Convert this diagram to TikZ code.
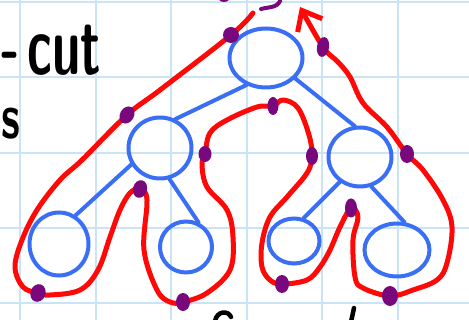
\documentclass[tikz,border=0pt]{standalone}
\usepackage{tikz}
\usetikzlibrary{shapes.geometric, arrows.meta, backgrounds}
\definecolor{gridblue}{RGB}{200,228,246}
\definecolor{treeblue}{RGB}{58,110,245}
\definecolor{tourred}{RGB}{255,8,8}
\definecolor{dotpurple}{RGB}{122,8,125}

\begin{document}
\begin{tikzpicture}[
  x=1pt, y=-1pt,
  vtx/.style={ellipse, draw=treeblue, line width=4pt, inner sep=0pt},
  link/.style={draw=treeblue, line width=4pt, line cap=round},
  tour/.style={draw=tourred, line width=5pt, line cap=round, line join=round},
  tdot/.style={ellipse, fill=dotpurple, inner sep=0pt,
               minimum width=14pt, minimum height=18pt},
  gridln/.style={draw=gridblue, line width=2pt},
  ink/.style={draw=black, line width=4.5pt, line cap=round},
  hand/.style={font=\sffamily\bfseries\fontsize{84}{90}\selectfont, inner sep=0pt},
]
  \useasboundingbox (0,0) rectangle (469,320);
  \clip (0,0) rectangle (469,320);
  \begin{scope}[on background layer]
    \fill[white] (0,0) rectangle (469,320);
    \foreach \gx in {20,95.5,...,400} \draw[gridln] (\gx,0) -- (\gx,320);
    \foreach \gy in {2,77.3,...,310} \draw[gridln] (0,\gy) -- (469,\gy);
  \end{scope}

  \node[hand, anchor=base east] (cutlbl) at (101,75)
    {\scalebox{0.6}[1]{-\kern12pt cut}};
  \node[hand, anchor=base west, font=\sffamily\bfseries\fontsize{64}{70}\selectfont]
    (slbl) at (1,139) {\scalebox{0.7}[1]{s}};

  \node[vtx, minimum width=73pt, minimum height=59pt] (root) at (266,58) {};
  \node[vtx, minimum width=63pt, minimum height=61pt] (lft) at (160,148) {};
  \node[vtx, minimum width=63pt, minimum height=59pt] (rgt) at (360,157) {};
  \node[vtx, minimum width=59pt, minimum height=63pt] (ll) at (59,244) {};
  \node[vtx, minimum width=52pt, minimum height=51pt] (lr) at (186,247) {};
  \node[vtx, minimum width=51pt, minimum height=45pt] (rl) at (294,241) {};
  \node[vtx, minimum width=65pt, minimum height=53pt] (rr) at (397,250) {};

  \draw[link] (root.-126) -- (lft.62);
  \draw[link] (root.-35) -- (rgt.100);
  \draw[link] (lft.-150) -- (ll.60);
  \draw[link] (lft.-73) -- (lr.63);
  \draw[link] (rgt.-129) -- (rl.67);
  \draw[link] (rgt.-69) -- (rr.75);

  \node[tdot, minimum width=16pt, minimum height=16pt] (d1) at (231,35) {};
  \node[tdot, rotate=-30] (d2) at (127,115) {};
  \node[tdot, minimum width=15pt, rotate=-20] (d3) at (38,293) {};
  \node[tdot, rotate=-15] (d4) at (140,189) {};
  \node[tdot] (d5) at (183,302) {};
  \node[tdot, minimum width=13pt, minimum height=16pt] (d6) at (205,154) {};
  \node[tdot, minimum width=11pt] (d7) at (273,106) {};
  \node[tdot, minimum width=12pt] (d8) at (312,156) {};
  \node[tdot] (d9) at (282,284) {};
  \node[tdot, minimum width=12pt, minimum height=19pt] (d10) at (351,208) {};
  \node[tdot, minimum width=16pt, minimum height=20pt] (d11) at (390,296) {};
  \node[tdot] (d12) at (407,154) {};
  \node[tdot, minimum width=12pt, minimum height=20pt, rotate=-10] (d13) at (323,47) {};
  \node[tdot, minimum width=12pt, minimum height=10pt] (d0) at (224,-3) {};

  \begin{scope}[on background layer]
    \draw[tour, -{Straight Barb[length=17pt, width=28pt]}] plot[smooth, tension=0.6]
      coordinates {(253,13) (d1) (160,90) (d2) (82,160) (60,180) (37,210)
        (22,240) (15,267) (23,287) (d3) (50,295) (80,290) (98,270) (110,237)
        (120,210) (130,193) (d4) (147,200) (144,250) (157,290) (170,302) (d5)
        (207,293) (230,270) (233,237) (227,210) (207,187) (202,165) (d6)
        (210,133) (227,120) (257,107) (d7) (283,100) (298,108) (309,135) (d8)
        (307,173) (287,197) (270,217) (262,243) (262,267) (270,280) (d9)
        (307,280) (320,267) (330,250) (340,227) (d10) (358,217) (353,240)
        (355,277) (363,288) (d11) (413,290) (437,280) (447,263) (452,227)
        (443,200) (423,170) (d12) (387,127) (363,103) (350,77) (338,62) (d13)
        (300,7)};
  \end{scope}

  \draw[dotpurple, line width=4pt, line cap=round]
    (261,9) .. controls (268,7) and (277,8) .. (280,1);
  \draw[ink] (215,321) .. controls (217,311) and (228,310) .. (231,317);
  \draw[ink] (354,308) -- (351,322);
\end{tikzpicture}
\end{document}
